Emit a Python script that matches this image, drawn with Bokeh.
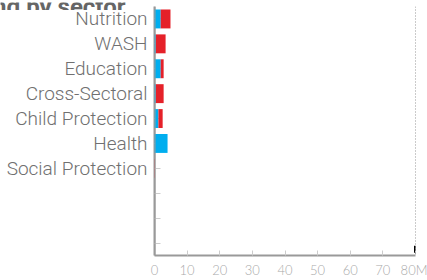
import math
from bokeh.plotting import figure
from bokeh.layouts import column
from bokeh.models import ColumnDataSource, FactorRange, Span, Label, Range1d, FixedTicker
from bokeh.embed import file_html
from bokeh.resources import INLINE

# ---- data ----
sectors = ["Nutrition", "WASH", "Education", "Cross-Sectoral",
           "Child Protection", "Health", "Social Protection"]
blank_slots = [" ", "  ", "   "]
funding_blue = [1.9, 0.4, 1.9, 0.4, 1.2, 4.0, 0.0]   # millions
funding_red = [3.0, 3.0, 0.9, 2.4, 1.3, 0.0, 0.1]    # millions
x_ticks = [0, 10, 20, 30, 40, 50, 60, 70, 80]
x_max = 80
title_text = "Funding by sector"

BLUE = "#00AEEF"
RED = "#E52129"

factors = list(reversed(sectors + blank_slots))

# ---- title strip (the title is cut off by the top edge) ----
t = figure(width=427, height=10, output_backend="svg", toolbar_location=None,
           x_axis_location=None, y_axis_location=None,
           x_range=Range1d(0, 1), y_range=Range1d(0, 1),
           min_border=0)
t.outline_line_color = None
t.xgrid.visible = False
t.ygrid.visible = False

frame_free = "frame_align" in t.properties()
title_x = 125 if frame_free else -29 + 154
t.add_layout(Label(x=title_x if frame_free else 125, y=6, x_units="screen", y_units="screen",
                   text=title_text,
                   text_align="right", text_baseline="alphabetic",
                   text_font="Roboto", text_font_size="24px", text_font_style="bold",
                   text_color="#666666"))

# ---- main chart ----
source = ColumnDataSource(dict(sector=sectors, blue=funding_blue, red=funding_red))

p = figure(width=427, height=274, output_backend="svg", toolbar_location=None,
           y_range=FactorRange(factors=factors, range_padding=0),
           x_range=Range1d(0, x_max),
           min_border_left=154, min_border_right=12, min_border_top=0, min_border_bottom=23)
p.margin = (-4, 0, 0, 0)
p.border_fill_alpha = 0
p.background_fill_color = "white"

if frame_free:
    t.frame_align = False
    p.frame_align = False

bars = p.hbar_stack(["blue", "red"], y="sector", height=0.76, color=[BLUE, RED],
                    line_color=None, source=source)
for r in bars:
    r.level = "annotation"

p.xgrid.visible = False
p.ygrid.visible = False
p.outline_line_color = None

# y axis
ya = p.yaxis[0]
ya.axis_line_color = "#999999"
ya.axis_line_width = 2
ya.major_tick_in = 6
ya.major_tick_out = 0
ya.major_tick_line_color = "#cccccc"
ya.minor_tick_line_color = None
ya.major_label_standoff = 7
ya.major_label_text_font = "Roboto Light, Roboto"
ya.major_label_text_font_size = "19px"
ya.major_label_text_color = "#707070"

# axis line redrawn above the bars
p.add_layout(Span(location=0, dimension="height", line_color="#999999",
                  line_width=2, level="overlay"))

# x axis
xa = p.xaxis[0]
xa.ticker = FixedTicker(ticks=x_ticks)
xa.major_label_overrides = {x_max: f"{x_max}M"}
xa.axis_line_color = "#999999"
xa.axis_line_width = 2
xa.major_tick_in = 5
xa.major_tick_out = 0
xa.major_tick_line_color = "#cccccc"
xa.minor_tick_line_color = None
xa.major_label_standoff = 6
xa.major_label_text_font = "Lato Light, Lato"
xa.major_label_text_font_size = "13px"
xa.major_label_text_color = "#aaaaaa"

# dotted target line and end mark
p.add_layout(Span(location=x_max, dimension="height", line_color="#333333",
                  line_dash="1 2", line_width=1))
p.scatter(x=[x_max], y=[(blank_slots[-1], -0.25)], marker="dash", size=7,
          angle=math.pi / 2, line_color="black", line_width=3)

layout = column(t, p)

open("out.html", "w").write(file_html(layout, INLINE))
